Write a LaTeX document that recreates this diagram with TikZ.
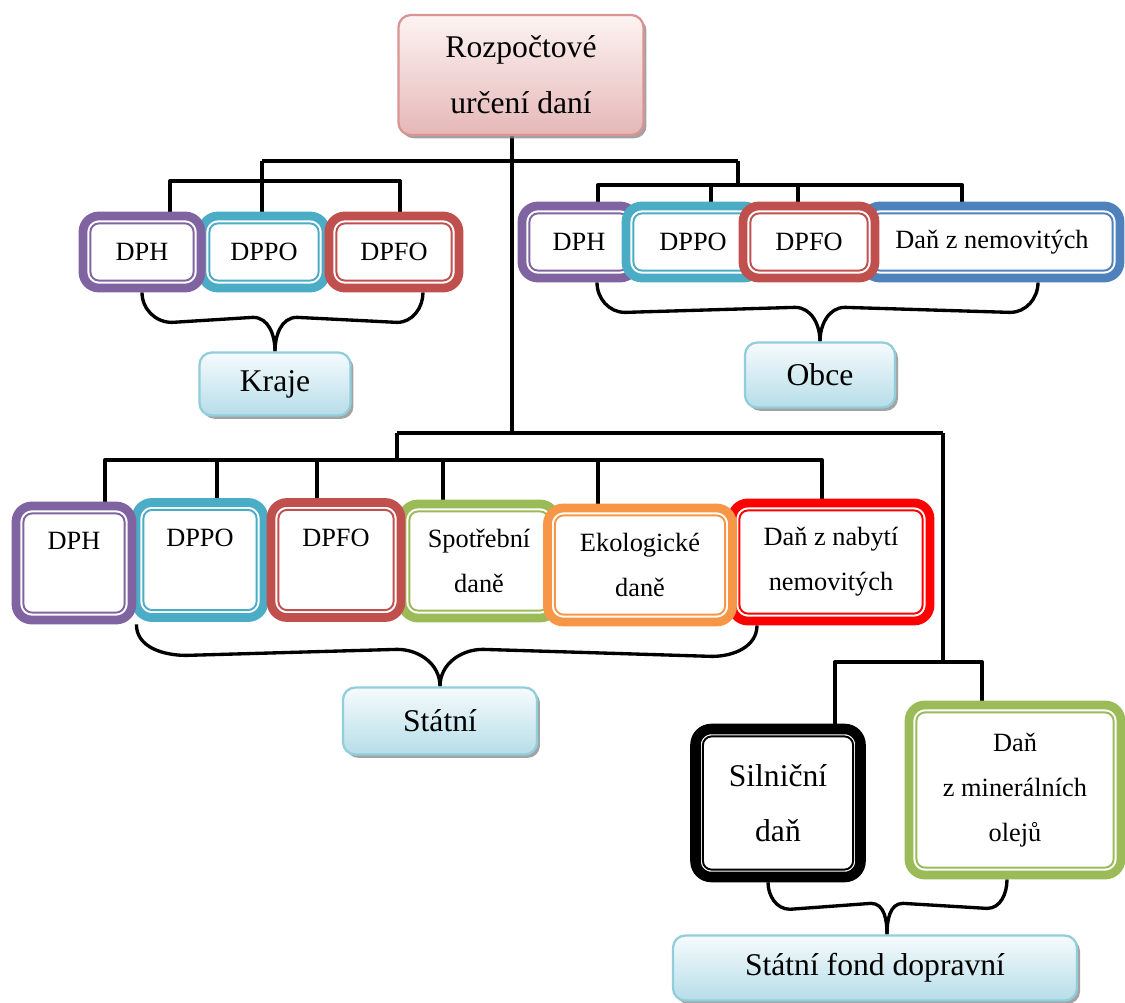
\documentclass[tikz,border=0pt]{standalone}
\usepackage{fontspec}
\setmainfont{Liberation Serif}
\usepackage{tikz}
\usetikzlibrary{calc,shadows,backgrounds}
\definecolor{cPurple}{HTML}{8064A2}
\definecolor{cTeal}{HTML}{4BACC6}
\definecolor{cRed}{HTML}{C0504D}
\definecolor{cBlue}{HTML}{4F81BD}
\definecolor{cGreen}{HTML}{9BBB59}
\definecolor{cOrange}{HTML}{F79646}
\definecolor{cBright}{HTML}{FF0000}
\definecolor{cSky}{HTML}{92CDDC}
\definecolor{cSkyTop}{HTML}{F6FBFD}
\definecolor{cSkyBot}{HTML}{B6DDE8}
\definecolor{cRose}{HTML}{D99594}
\definecolor{cRoseTop}{HTML}{FDF3F3}
\definecolor{cRoseBot}{HTML}{E5B8B7}
\tikzset{%
	wh/.style 2 args = {minimum width=#1*0.02cm, minimum height=#2*0.02cm},
	frame/.style     = {draw=#1, line width=5pt, rounded corners=9pt, fill=white, inner sep=0pt, align=center,
		font=\fontsize{15}{25.5}\selectfont,
		path picture={\draw[draw=#1, line width=1.1pt, rounded corners=5pt]
			([shift={(4.2pt,4.2pt)}]path picture bounding box.south west) rectangle
			([shift={(-4.2pt,-4.2pt)}]path picture bounding box.north east);}}, % double border
	grp/.style       = {draw=cSky, line width=1.3pt, rounded corners=7pt, top color=cSkyTop, bottom color=cSkyBot,
		inner sep=0pt, align=center, font=\fontsize{18}{30}\selectfont,
		drop shadow={shadow xshift=1.7pt, shadow yshift=-1.9pt, fill=black!45, opacity=0.8}},
	root/.style      = {grp, draw=cRose, top color=cRoseTop, bottom color=cRoseBot, font=\fontsize{18}{32}\selectfont},
	wire/.style      = {draw, line width=1.9pt, line join=round},
}
\begin{document}
\begin{tikzpicture}[x=0.02cm, y=-0.02cm]
	\useasboundingbox (0,0) rectangle (1125,1003);
	\node[root, wh={245}{120}] (top) at (521,75) {Rozpočtové\\určení daní};
	% kraje
	\node[frame=cTeal, wh={124}{72}] (kDPPO) at (264,252) {DPPO};
	\node[frame=cPurple, wh={118}{72}] (kDPH) at (142,252) {DPH};
	\node[frame=cRed, wh={130}{72}] (kDPFO) at (394,252) {DPFO};
	\node[grp, wh={151}{63}] (kraje) at (275,384) {Kraje};
	% obce
	\node[frame=cPurple, wh={114}{72}] (oDPH) at (579,242) {DPH};
	\node[frame=cTeal, wh={134}{72}] (oDPPO) at (693,242) {DPPO};
	\node[frame=cBlue, wh={256}{72}] (oNem) at (992,242) {Daň z nemovitých};
	\node[frame=cRed, wh={132}{72}] (oDPFO) at (809,242) {DPFO};
	\node[grp, wh={150}{65}] (obce) at (820,375) {Obce};
	% statni
	\node[frame=cTeal, wh={128}{115}] (sDPPO) at (200,560) {DPPO\\\mbox{}};
	\node[frame=cPurple, wh={116}{114}] (sDPH) at (74,563) {DPH\\\mbox{}};
	\node[frame=cGreen, wh={154}{114}] (sSpot) at (479,561) {Spotřební\\daně};
	\node[frame=cRed, wh={130}{115}] (sDPFO) at (336,560) {DPFO\\\mbox{}};
	\node[frame=cBright, wh={198}{118}] (sNab) at (831,562) {Daň z nabytí\\nemovitých};
	\node[frame=cOrange, wh={185}{114}] (sEko) at (640,565) {Ekologické\\daně};
	\node[grp, wh={194}{67}] (statni) at (440,721) {Státní};
	% fond
	\node[frame=black, line width=6pt, font=\fontsize{18}{31}\selectfont, wh={165}{148}] (silnicni) at (778,803) {Silniční\\daň};
	\node[frame=cGreen, wh={212}{170}] (olej) at (1015,790) {Daň\\z minerálních\\olejů};
	\node[grp, wh={404}{65}] (fond) at (875,968) {Státní fond dopravní};

	\begin{scope}[on background layer]
		\coordinate (kTop) at (262,161);
		\coordinate (oTop) at (738,161);
		\coordinate (sTop) at (512,433);
		\draw[wire] (top.south -| sTop) -- (sTop);
		\draw[wire] (kTop) -- (oTop);
		% kraje
		\coordinate (kL) at (170,181);
		\coordinate (kR) at (400,181);
		\draw[wire] (kTop) -- (kTop |- kDPPO.north);
		\draw[wire] (kL |- kDPH.north) -- (kL) -- (kR) -- (kR |- kDPFO.north);
		\draw[wire] (kDPH.south) to[out=-90,in=180] ++(30,30) -- ($(kraje.north)+(-22,-34)$) to[out=0,in=90] (kraje.north);
		\draw[wire] ($(kDPFO.south)+(29,0)$) to[out=-90,in=0] ++(-26,30) -- ($(kraje.north)+(22,-34)$) to[out=180,in=90] (kraje.north);
		% obce
		\coordinate (oL) at (598,185);
		\coordinate (oR) at (962,185);
		\coordinate (o2) at (711,185);
		\coordinate (o3) at (798,185);
		\draw[wire] (oTop) -- (oTop |- oL);
		\draw[wire] (oL |- oDPH.north) -- (oL) -- (oR) -- (oR |- oNem.north);
		\draw[wire] (o2) -- (o2 |- oDPPO.north);
		\draw[wire] (o3) -- (o3 |- oDPFO.north);
		\draw[wire] ($(oDPH.south)+(18,0)$) to[out=-90,in=180] ++(28,30) -- ($(obce.north)+(-25,-34)$) to[out=0,in=90] (obce.north);
		\draw[wire] ($(oNem.south)+(46,0)$) to[out=-90,in=0] ++(-28,30) -- ($(obce.north)+(25,-34)$) to[out=180,in=90] (obce.north);
		% statni
		\coordinate (sL) at (397,433);
		\coordinate (fR) at (943,433);
		\coordinate (sBarL) at (105,460);
		\coordinate (sBarR) at (822,460);
		\draw[wire] (sL) -- (fR);
		\draw[wire] (sL) -- (sL |- sBarL);
		\draw[wire] (sBarL |- sDPH.north) -- (sBarL) -- (sBarR) -- (sBarR |- sNab.north);
		\foreach \x/\n in {217/sDPPO, 317/sDPFO, 443/sSpot, 598/sEko} {
			\coordinate (b\n) at (\x,460);
			\draw[wire] (b\n) -- (b\n |- \n.north);
		}
		\draw[wire] (sDPH.south east) to[out=-90,in=180] ++(50,31) -- ($(statni.north)+(-43,-37)$) to[out=0,in=90] (statni.north);
		\draw[wire] ($(sNab.south)+(-74,0)$) to[out=-90,in=0] ++(-45,31) -- ($(statni.north)+(43,-37)$) to[out=180,in=90] (statni.north);
		% fond
		\coordinate (fL) at (835,662);
		\coordinate (fR2) at (982,662);
		\coordinate (fTip) at ($(fond.north)+(12,0)$);
		\draw[wire] (fR) -- (fR |- fL);
		\draw[wire] (fL |- silnicni.north) -- (fL) -- (fR2) -- (fR2 |- olej.north);
		\draw[wire] ($(silnicni.south)+(-10,0)$) to[out=-90,in=180] ++(22,27) -- ($(fTip)+(-16,-31)$) to[out=0,in=90] (fTip);
		\draw[wire] ($(olej.south)+(-8,0)$) to[out=-90,in=0] ++(-20,29) -- ($(fTip)+(16,-31)$) to[out=180,in=90] (fTip);
	\end{scope}
\end{tikzpicture}
\end{document}
